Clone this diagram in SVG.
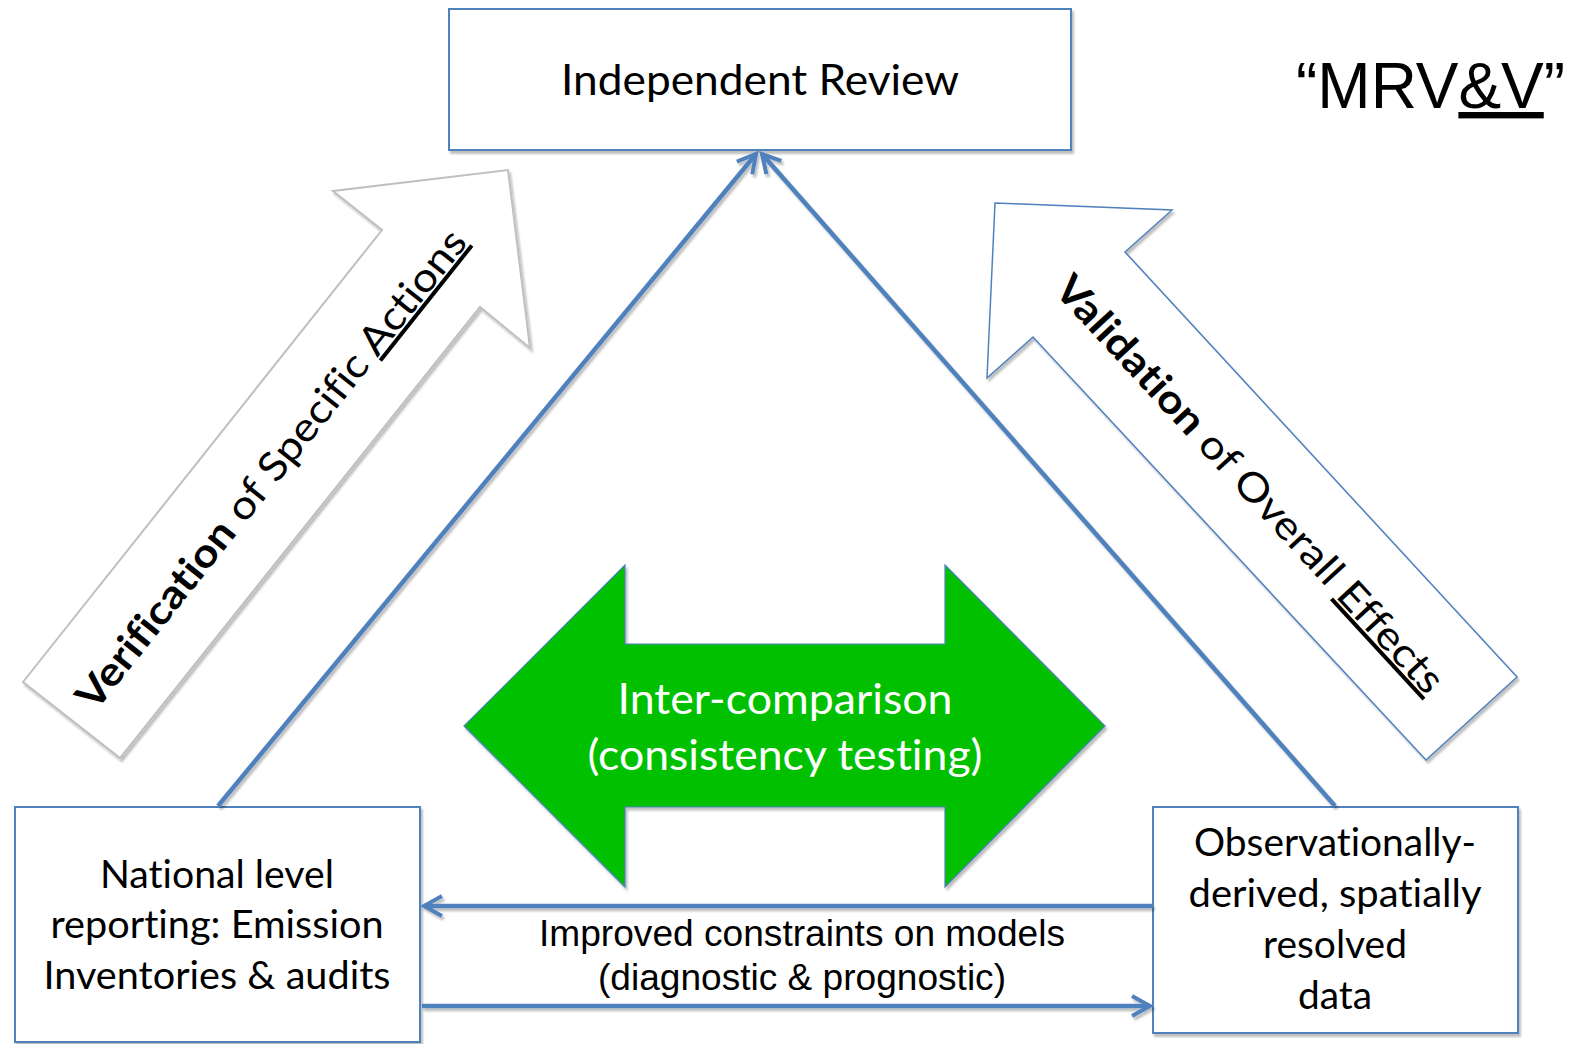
<svg xmlns="http://www.w3.org/2000/svg" width="1576" height="1044" viewBox="0 0 1576 1044">
  <defs>
    <filter id="shadow" x="-10%" y="-10%" width="130%" height="130%">
      <feDropShadow dx="2" dy="3" stdDeviation="1.2" flood-color="#000" flood-opacity="0.25"/>
    </filter>
    <!-- line shadows need a user-space region, horizontal lines have a zero-height bbox -->
    <filter id="line-shadow" filterUnits="userSpaceOnUse" x="0" y="0" width="1576" height="1044">
      <feDropShadow dx="2" dy="3" stdDeviation="1.2" flood-color="#000" flood-opacity="0.25"/>
    </filter>
    <marker id="open-arrow" viewBox="-22 -12 26 24" markerUnits="userSpaceOnUse" markerWidth="26" markerHeight="24" refX="0" refY="0" orient="auto">
      <path d="M -18 -10 L 0 0 L -18 10" fill="none" stroke="#4F81BD" stroke-width="4" stroke-linejoin="miter"/>
    </marker>
  </defs>
  <style>
    .box { fill: #fff; stroke: #4F81BD; stroke-width: 2; filter: url(#shadow); }
    .label { font-family: Lato, "Liberation Sans", sans-serif; fill: #000; text-anchor: middle; font-variant-ligatures: none; }
    .arial { font-family: "Liberation Sans", Arial, sans-serif; fill: #000; text-anchor: middle; }
    .link { fill: none; stroke: #4F81BD; stroke-width: 4.5; marker-end: url(#open-arrow); filter: url(#line-shadow); }
  </style>

  <rect width="1576" height="1044" fill="#fff"/>

  <!-- Title mark -->
  <text x="1296" y="108" font-family="'Liberation Sans', Arial, sans-serif" font-size="64" fill="#000">“MRV<tspan text-decoration="underline">&amp;V</tspan>”</text>

  <!-- Verification arrow (up-right) -->
  <g id="verification-arrow">
    <polygon points="23,682 382,230 333,191 508,170 530,348 480,307 120,758" fill="#fff" stroke="#BFBFBF" stroke-width="2" filter="url(#shadow)"/>
    <g transform="translate(271,469) rotate(-51.5)">
      <text class="label" x="0" y="14" font-size="40" textLength="600" lengthAdjust="spacingAndGlyphs"><tspan font-weight="bold">Verification</tspan> of Specific <tspan text-decoration="underline">Actions</tspan></text>
    </g>
  </g>

  <!-- Validation arrow (up-left) -->
  <g id="validation-arrow">
    <polygon points="1517,677 1125,252 1172,210 995,203 987,378 1033,337 1426,760" fill="#fff" stroke="#4F81BD" stroke-width="1.5" filter="url(#shadow)"/>
    <g transform="translate(1250,484) rotate(47.3)">
      <text class="label" x="0" y="14" font-size="40" textLength="552" lengthAdjust="spacingAndGlyphs"><tspan font-weight="bold">Validation</tspan> of Overall <tspan text-decoration="underline">Effects</tspan></text>
    </g>
  </g>

  <!-- Inter-comparison double arrow -->
  <g id="inter-comparison">
    <polygon points="464,726 625,565 625,644 945,644 945,565 1105,726 945,887 945,807 625,807 625,887" fill="#00C000" stroke="#4F81BD" stroke-width="1.2" filter="url(#shadow)"/>
    <text class="label" x="785" y="714" font-size="43" style="fill:#fff" textLength="335" lengthAdjust="spacingAndGlyphs">Inter-comparison</text>
    <text class="label" x="785" y="770" font-size="43" style="fill:#fff" textLength="395" lengthAdjust="spacingAndGlyphs">(consistency testing)</text>
  </g>

  <!-- Nodes -->
  <g id="independent-review">
    <rect class="box" x="449" y="9" width="622" height="141"/>
    <text class="label" x="760" y="95" font-size="42" textLength="398" lengthAdjust="spacingAndGlyphs">Independent Review</text>
  </g>

  <g id="national-reporting">
    <rect class="box" x="15" y="807" width="405" height="235"/>
    <text class="label" x="217" y="888" font-size="38" textLength="234" lengthAdjust="spacingAndGlyphs">National level</text>
    <text class="label" x="217" y="938" font-size="38" textLength="333" lengthAdjust="spacingAndGlyphs">reporting: Emission</text>
    <text class="label" x="217" y="989" font-size="38" textLength="347" lengthAdjust="spacingAndGlyphs">Inventories &amp; audits</text>
  </g>

  <g id="observational-data">
    <rect class="box" x="1153" y="807" width="365" height="226"/>
    <text class="label" x="1335" y="856" font-size="38" textLength="282" lengthAdjust="spacingAndGlyphs">Observationally-</text>
    <text class="label" x="1335" y="907" font-size="38" textLength="293" lengthAdjust="spacingAndGlyphs">derived, spatially</text>
    <text class="label" x="1335" y="958" font-size="38" textLength="144" lengthAdjust="spacingAndGlyphs">resolved</text>
    <text class="label" x="1335" y="1009" font-size="38" textLength="74" lengthAdjust="spacingAndGlyphs">data</text>
  </g>

  <!-- Connectors -->
  <g id="connectors">
    <line class="link" x1="218" y1="806" x2="756" y2="154"/>
    <line class="link" x1="1335" y1="806" x2="762" y2="154"/>
    <line class="link" x1="1153" y1="906" x2="424" y2="906"/>
    <line class="link" x1="422" y1="1006" x2="1150" y2="1006"/>
    <text class="arial" x="802" y="946" font-size="37" textLength="526" lengthAdjust="spacingAndGlyphs">Improved constraints on models</text>
    <text class="arial" x="802" y="990" font-size="37" textLength="408" lengthAdjust="spacingAndGlyphs">(diagnostic &amp; prognostic)</text>
  </g>
</svg>
